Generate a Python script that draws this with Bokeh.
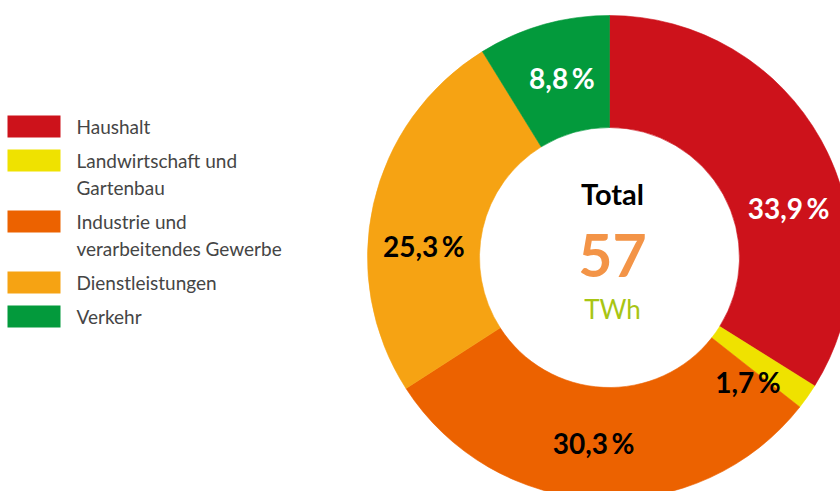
import math
from bokeh.plotting import figure
from bokeh.models import Range1d, ColumnDataSource
from bokeh.core.properties import value
from bokeh.embed import file_html
from bokeh.resources import INLINE

# ---------------- data ----------------
categories = ["Haushalt", "Landwirtschaft und\nGartenbau", "Industrie und\nverarbeitendes Gewerbe",
              "Dienstleistungen", "Verkehr"]
shares = [33.9, 1.7, 30.3, 25.3, 8.8]
colors = ["#CD121B", "#EFE200", "#EC6200", "#F6A313", "#039A3C"]
label_colors = ["white", "black", "black", "black", "white"]
center_title = "Total"
total_value = 57
total_unit = "TWh"

# ---------------- layout / style ----------------
FONT = "Lato"
W, H = 840, 491
CX, CY = 609, 257          # donut centre in page pixels
R_OUT, R_IN = 242, 130
R_LAB = 186
label_shift_deg = [-13.4, -6.8, -2.2, 9.1, -1.0]

def px(x):
    return x - CX

def py(y):
    return CY - y

p = figure(width=W, height=H, output_backend="svg", toolbar_location=None,
           x_range=Range1d(px(0), px(W)), y_range=Range1d(py(H), py(0)),
           min_border=0, outline_line_color=None, background_fill_color="white",
           border_fill_color="white")
p.axis.visible = False
p.grid.visible = False

starts, ends, mids = [], [], []
cum = 0.0
for s in shares:
    a0 = 90 - cum * 3.6
    a1 = 90 - (cum + s) * 3.6
    starts.append(math.radians(a0))
    ends.append(math.radians(a1))
    mids.append((a0 + a1) / 2)
    cum += s

src = ColumnDataSource(dict(start=starts, end=ends, color=colors))
p.annular_wedge(x=0, y=0, inner_radius=R_IN, outer_radius=R_OUT, start_angle="start",
                end_angle="end", direction="clock", fill_color="color", line_color="color",
                line_width=0.6, source=src)

# percentage labels
lab_x, lab_y, lab_t = [], [], []
for s, m, sh in zip(shares, mids, label_shift_deg):
    a = math.radians(m + sh)
    lab_x.append(R_LAB * math.cos(a))
    lab_y.append(R_LAB * math.sin(a))
    lab_t.append(f"{s:.1f}".replace(".", ",") + "\u2009%")
p.text(x=lab_x, y=lab_y, text=lab_t, text_color=label_colors, text_font=value(FONT),
       text_font_style="bold", text_font_size="28px", text_align="center",
       text_baseline="middle")

# centre texts
p.text(x=[3], y=[py(193)], text=[center_title], text_font=value(FONT), text_font_style="bold",
       text_font_size="29px", text_color="black", text_align="center", text_baseline="middle")
p.text(x=[3], y=[py(255)], text=[str(total_value)], text_font=value(FONT), text_font_style="bold",
       text_font_size="59px", text_color="#F39447", text_align="center", text_baseline="middle")
p.text(x=[3], y=[py(308)], text=[total_unit], text_font=value(FONT),
       text_font_size="26px", text_color="#A8C514", text_align="center", text_baseline="middle")

# legend
LINE = 27
GAP = 7
y = 126
sq_x, sq_y, tx, ty, tt = [], [], [], [], []
for cat in categories:
    lines = cat.split("\n")
    sq_x.append(px(7 + 53 / 2))
    sq_y.append(py(y))
    for i, ln in enumerate(lines):
        tx.append(px(76))
        ty.append(py(y + i * LINE))
        tt.append(ln)
    y += len(lines) * LINE + GAP
p.rect(x=sq_x, y=sq_y, width=53, height=22, fill_color=colors, line_color=None)
p.text(x=tx, y=ty, text=tt, text_font=value(FONT), text_font_size="19px", text_color="#454545",
       text_align="left", text_baseline="middle")

open("out.html", "w").write(file_html(p, INLINE))
